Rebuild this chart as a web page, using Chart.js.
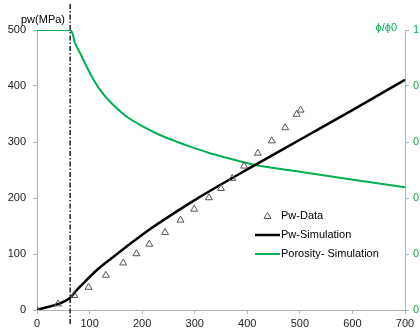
<!DOCTYPE html>
<html>
<head>
<meta charset="utf-8">
<script src="https://cdn.jsdelivr.net/npm/chart.js@4.4.1/dist/chart.umd.min.js"></script>
<style>
  html, body { margin: 0; padding: 0; background: #fff; overflow: hidden; }
  #wrap { width: 450px; height: 334px; }
</style>
</head>
<body>
<div id="wrap"><canvas id="grafica" width="450" height="334"></canvas></div>
<script>
// Datos medidos (triangulos)
const dataX = [0, 40, 71, 98, 131, 164, 189, 213.5, 243.5, 273, 299, 327, 350, 371.5, 394, 420, 446.5, 472, 494, 501.5];
const dataPw = [0, 11, 26, 40.5, 62, 84, 100.5, 117.5, 138.5, 160.5, 180, 200.5, 217, 235, 257, 280, 302, 325.5, 349.5, 357];

// Simulacion de presion
const simX = [0, 62, 75, 90, 113.5, 140, 170, 212, 260, 310, 400, 500, 600, 700];
const simPw = [0, 21, 35, 49.5, 71, 91, 113, 142.5, 172.5, 202, 251, 304, 357, 411];

// Simulacion de porosidad (phi/phi0)
const porX = [0, 63, 72, 82, 101, 120, 139, 171, 202, 234, 266, 297, 329, 415, 500, 595, 700];
const porVal = [1, 1, 0.955, 0.917, 0.845, 0.786, 0.744, 0.690, 0.655, 0.625, 0.601, 0.580, 0.560, 0.518, 0.494, 0.467, 0.438];

const xTicks = [0, 100, 200, 300, 400, 500, 600, 700];
const yTicks = [0, 100, 200, 300, 400, 500];
const y2Ticks = [0, 0.2, 0.4, 0.6, 0.8, 1];
const lineaVertical = 63;

const verde = '#00b050';
const gris = '#b3b3b3';
const fuente = { family: '"Liberation Sans", Arial, sans-serif', size: 11 };

const toPts = (xs, ys) => xs.map((x, i) => ({ x: x, y: ys[i] }));

// Linea vertical punto-raya, titulos y leyenda
const extras = {
  id: 'extras',
  afterDraw(chart) {
    const ctx = chart.ctx;
    const xs = chart.scales.x;
    const px = xs.getPixelForValue(lineaVertical);
    ctx.save();
    ctx.strokeStyle = '#000';
    ctx.lineWidth = 1.3;
    ctx.setLineDash([5, 2, 1.5, 2]);
    ctx.beginPath();
    ctx.moveTo(px, 4);
    ctx.lineTo(px, 325);
    ctx.stroke();
    ctx.setLineDash([]);

    ctx.font = '11px "Liberation Sans", Arial, sans-serif';
    ctx.textBaseline = 'middle';
    ctx.fillStyle = '#000';
    ctx.textAlign = 'left';
    ctx.fillText('pw(MPa)', 21, 20);
    ctx.fillStyle = verde;
    ctx.textAlign = 'right';
    ctx.fillText('\u03d5/\u03d50', 397, 28);

    // leyenda
    const filas = [216, 235, 254];
    chart.data.datasets.forEach((ds, i) => {
      const y = filas[i];
      if (ds.showLine === false) {
        ctx.strokeStyle = ds.borderColor;
        ctx.lineWidth = 1;
        ctx.beginPath();
        ctx.moveTo(267.5, y - 3.5);
        ctx.lineTo(271, y + 2.5);
        ctx.lineTo(264, y + 2.5);
        ctx.closePath();
        ctx.stroke();
      } else {
        ctx.strokeStyle = ds.borderColor;
        ctx.lineWidth = ds.borderWidth;
        ctx.beginPath();
        ctx.moveTo(255, y);
        ctx.lineTo(280, y);
        ctx.stroke();
      }
      ctx.fillStyle = '#000';
      ctx.textAlign = 'left';
      ctx.fillText(ds.label, 281, y);
    });
    ctx.restore();
  }
};

new Chart(document.getElementById('grafica'), {
  type: 'scatter',
  data: {
    datasets: [
      {
        label: 'Pw-Data',
        data: toPts(dataX, dataPw),
        showLine: false,
        pointStyle: 'triangle',
        pointRadius: 4,
        borderColor: '#555',
        backgroundColor: 'rgba(255,255,255,0)',
        borderWidth: 1,
        yAxisID: 'y'
      },
      {
        label: 'Pw-Simulation',
        data: toPts(simX, simPw),
        showLine: true,
        borderColor: '#000',
        borderWidth: 2.5,
        pointRadius: 0,
        cubicInterpolationMode: 'monotone',
        yAxisID: 'y'
      },
      {
        label: 'Porosity- Simulation',
        data: toPts(porX, porVal),
        showLine: true,
        borderColor: verde,
        borderWidth: 2,
        pointRadius: 0,
        tension: 0.3,
        yAxisID: 'y2'
      }
    ]
  },
  options: {
    responsive: false,
    animation: false,
    devicePixelRatio: 1,
    layout: { padding: { top: 30, left: 0, right: 0, bottom: 0 } },
    plugins: { legend: { display: false }, tooltip: { enabled: false } },
    scales: {
      x: {
        type: 'linear',
        min: 0, max: 700,
        afterBuildTicks: s => { s.ticks = xTicks.map(v => ({ value: v })); },
        afterFit: s => { s.height = 24; },
        grid: { drawOnChartArea: false, tickLength: 4, color: gris },
        border: { color: gris },
        ticks: { color: '#222', font: fuente, padding: 3, maxRotation: 0 }
      },
      y: {
        position: 'left',
        min: 0, max: 500,
        afterBuildTicks: s => { s.ticks = yTicks.map(v => ({ value: v })); },
        afterFit: s => { s.width = 37; },
        grid: { drawOnChartArea: false, tickLength: 4, color: gris },
        border: { color: gris },
        ticks: { color: '#222', font: fuente, padding: 7 }
      },
      y2: {
        position: 'right',
        min: 0, max: 1,
        afterBuildTicks: s => { s.ticks = y2Ticks.map(v => ({ value: v })); },
        afterFit: s => { s.width = 45; },
        grid: { drawOnChartArea: false, tickLength: 4, color: gris },
        border: { color: gris },
        ticks: { color: verde, font: fuente, padding: 4, callback: v => String(Math.round(v * 10) / 10) }
      }
    }
  },
  plugins: [extras]
});
</script>
</body>
</html>
